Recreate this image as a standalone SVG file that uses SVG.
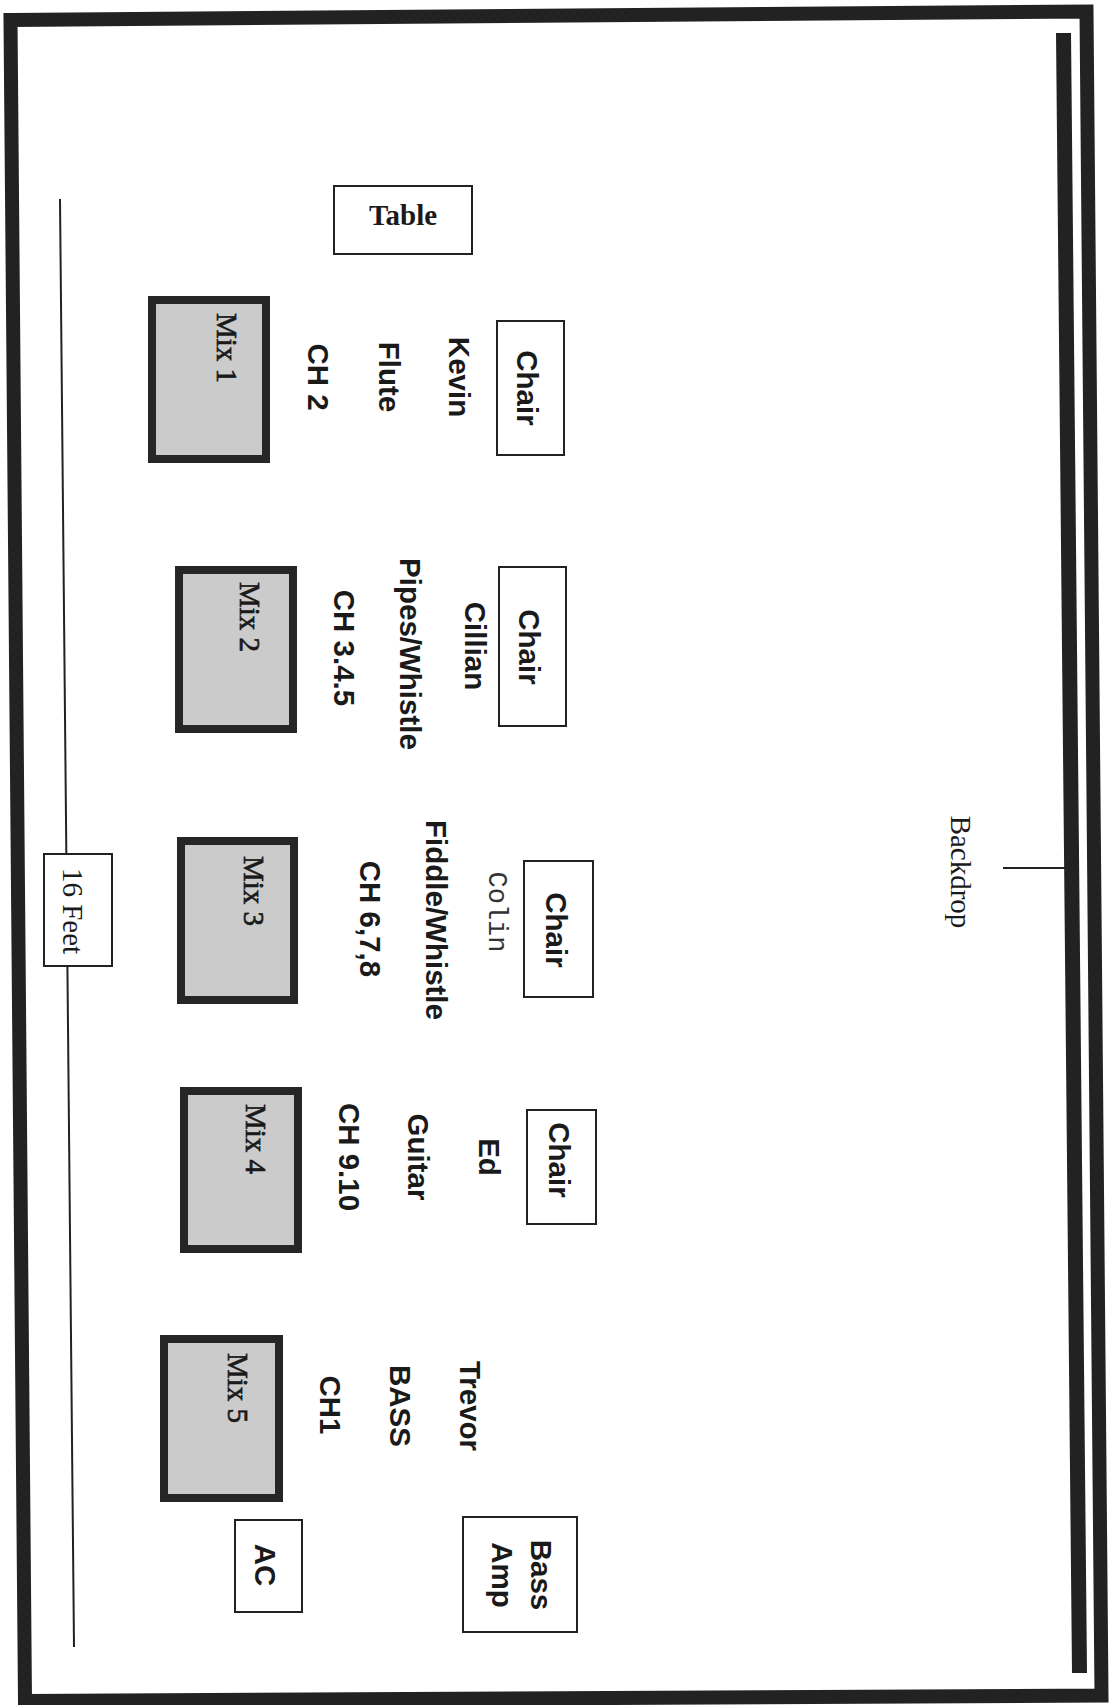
<svg xmlns="http://www.w3.org/2000/svg" width="1112" height="1705" viewBox="0 0 1112 1705">
<style>
.box{fill:#fff;stroke:#222;stroke-width:2}
.mix{fill:#cbcbcb;stroke:#262626;stroke-width:8}
.sb{font-family:"Liberation Sans",Arial,sans-serif;font-weight:bold;font-size:29.5px;fill:#1a1a1a}
.sr{font-family:"Liberation Serif","Times New Roman",serif;font-size:29px;fill:#1a1a1a}
.ml{stroke:#1a1a1a;stroke-width:0.7}
.mono{font-family:"Liberation Mono","Courier New",monospace;font-size:27px;fill:#333}
.ln{stroke:#222;stroke-width:2;fill:none}
</style>
<rect width="1112" height="1705" fill="#fff"/>
<g id="frame">
<polygon points="10.5,20 1086.5,11.5 1101.5,1695.5 25,1701" fill="none" stroke="#222" stroke-width="14" stroke-linejoin="miter"/>
<polygon id="backdrop-bar" points="1056,33 1071,33 1087,1673 1072,1673" fill="#222"/>
</g>
<g id="connectors">
<line class="ln" x1="60" y1="199" x2="74" y2="1647"/>
<line class="ln" x1="1003" y1="868" x2="1065" y2="868"/>
</g>
<g id="dim-16feet">
<rect class="box" x="44" y="854" width="68" height="112"/>
<text class="sr" font-size="28" text-anchor="middle" transform="translate(63,911) rotate(90)">16 Feet</text>
</g>
<g id="backdrop-label">
<text class="sr" font-size="28" text-anchor="middle" transform="translate(951,872) rotate(90)">Backdrop</text>
</g>
<g id="table">
<rect class="box" x="334" y="186" width="138" height="68"/>
<text class="sr" font-weight="bold" text-anchor="middle" x="403" y="225">Table</text>
</g>
<g id="mix1">
<rect class="mix" x="152" y="300" width="114" height="159"/>
<text class="sr ml" font-size="29.5" text-anchor="middle" transform="translate(217,348) rotate(90)">Mix 1</text>
</g>
<g id="kevin">
<rect class="box" x="497" y="321" width="67" height="134"/>
<text class="sb" text-anchor="middle" transform="translate(517,388) rotate(90)">Chair</text>
<text class="sb" text-anchor="middle" transform="translate(449,377) rotate(90)">Kevin</text>
<text class="sb" text-anchor="middle" transform="translate(379,377) rotate(90)">Flute</text>
<text class="sb" text-anchor="middle" transform="translate(308,377) rotate(90)">CH 2</text>
</g>
<g id="mix2">
<rect class="mix" x="179" y="570" width="114" height="159"/>
<text class="sr ml" font-size="29.5" text-anchor="middle" transform="translate(240,617) rotate(90)">Mix 2</text>
</g>
<g id="cillian">
<rect class="box" x="499" y="567" width="67" height="159"/>
<text class="sb" text-anchor="middle" transform="translate(519,647) rotate(90)">Chair</text>
<text class="sb" text-anchor="middle" transform="translate(465,646) rotate(90)">Cillian</text>
<text class="sb" text-anchor="middle" transform="translate(400,654) rotate(90)">Pipes/Whistle</text>
<text class="sb" text-anchor="middle" transform="translate(334,648) rotate(90)">CH 3.4.5</text>
</g>
<g id="mix3">
<rect class="mix" x="181" y="841" width="113" height="159"/>
<text class="sr ml" font-size="29.5" text-anchor="middle" transform="translate(244,891) rotate(90)">Mix 3</text>
</g>
<g id="colin">
<rect class="box" x="524" y="861" width="69" height="136"/>
<text class="sb" text-anchor="middle" transform="translate(546,930) rotate(90)">Chair</text>
<text class="mono" text-anchor="middle" transform="translate(489,912) rotate(90)">Colin</text>
<text class="sb" text-anchor="middle" transform="translate(426,920) rotate(90)">Fiddle/Whistle</text>
<text class="sb" text-anchor="middle" transform="translate(360,919) rotate(90)">CH 6,7,8</text>
</g>
<g id="mix4">
<rect class="mix" x="184" y="1091" width="114" height="158"/>
<text class="sr ml" font-size="29.5" text-anchor="middle" transform="translate(246,1139) rotate(90)">Mix 4</text>
</g>
<g id="ed">
<rect class="box" x="527" y="1110" width="69" height="114"/>
<text class="sb" text-anchor="middle" transform="translate(549,1160) rotate(90)">Chair</text>
<text class="sb" text-anchor="middle" transform="translate(479,1157) rotate(90)">Ed</text>
<text class="sb" text-anchor="middle" transform="translate(408,1157) rotate(90)">Guitar</text>
<text class="sb" text-anchor="middle" transform="translate(339,1157) rotate(90)">CH 9.10</text>
</g>
<g id="mix5">
<rect class="mix" x="164" y="1339" width="115" height="159"/>
<text class="sr ml" font-size="29.5" text-anchor="middle" transform="translate(228,1388) rotate(90)">Mix 5</text>
</g>
<g id="trevor">
<text class="sb" text-anchor="middle" transform="translate(460,1406) rotate(90)">Trevor</text>
<text class="sb" text-anchor="middle" transform="translate(390,1406) rotate(90)">BASS</text>
<text class="sb" text-anchor="middle" transform="translate(320,1405) rotate(90)">CH1</text>
</g>
<g id="ac">
<rect class="box" x="235" y="1520" width="67" height="92"/>
<text class="sb" text-anchor="middle" transform="translate(255,1565) rotate(90)">AC</text>
</g>
<g id="bass-amp">
<rect class="box" x="463" y="1517" width="114" height="115"/>
<text class="sb" text-anchor="middle" transform="translate(531,1575) rotate(90)">Bass</text>
<text class="sb" text-anchor="middle" transform="translate(492,1575) rotate(90)">Amp</text>
</g>
</svg>
